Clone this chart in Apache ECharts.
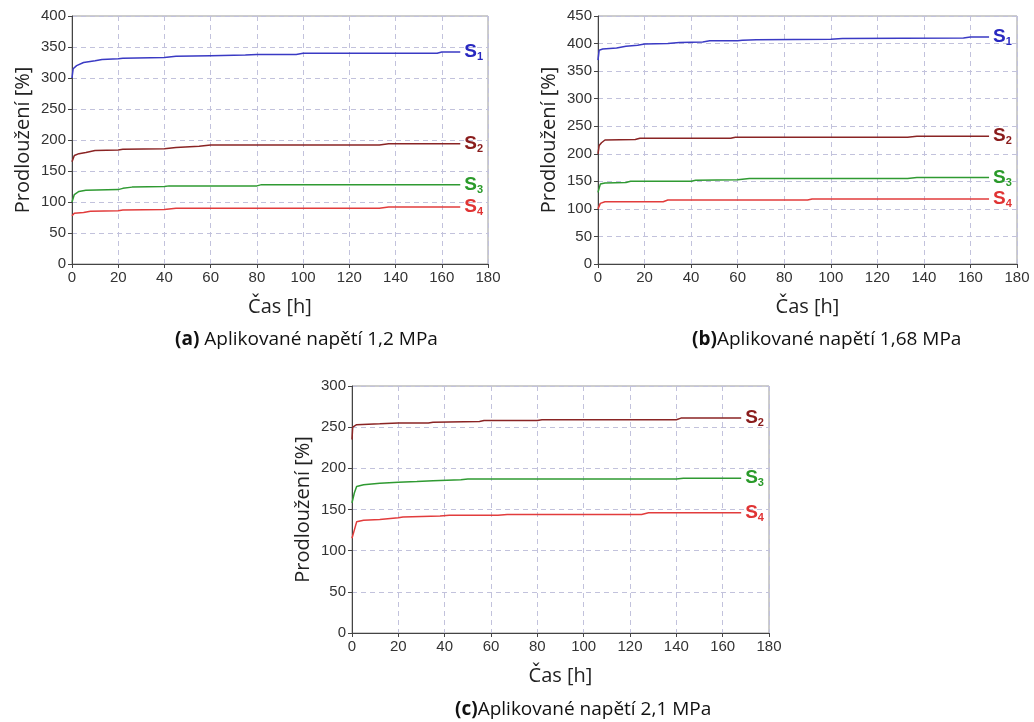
<!DOCTYPE html>
<html><head><meta charset="utf-8">
<script src="https://cdn.jsdelivr.net/npm/echarts@6/dist/echarts.min.js"></script>
<style>html,body{margin:0;padding:0;background:#fff}#c{width:1034px;height:722px}</style>
</head><body><div id="c"></div>
<script>
// ---- data (time [h], elongation [%]) ----
const xTicks = [0,20,40,60,80,100,120,140,160,180];
// panel (a) 1,2 MPa
const a_S1 = [[0,300],[0.5,315],[2,320],[5,325],[10,328],[13,330],[20,331],[22,332],[40,333],[45,335],[60,336],[75,337],[80,338],[97,338],[100,340],[158,340],[160,342],[168,342]];
const a_S2 = [[0,165],[1,175],[3,178],[6,180],[10,183],[20,184],[22,185],[40,186],[45,188],[55,190],[60,192],[133,192],[137,194],[168,194]];
const a_S3 = [[0,100],[1,112],[3,117],[6,119],[20,120],[22,122],[26,124],[40,125],[42,126],[80,126],[82,128],[168,128]];
const a_S4 = [[0,78],[1,82],[5,83],[8,85],[20,86],[22,87],[40,88],[45,90],[133,90],[137,92],[168,92]];
// panel (b) 1,68 MPa
const b_S1 = [[0,370],[0.5,388],[2,390],[8,392],[12,395],[17,397],[20,399],[30,400],[35,402],[45,403],[48,405],[60,405],[62,406],[68,407],[100,408],[105,409],[157,410],[160,412],[168,412]];
const b_S2 = [[0,200],[0.5,215],[1.5,220],[3,225],[16,226],[18,228],[57,228],[59,230],[133,230],[137,232],[168,232]];
const b_S3 = [[0,130],[1,145],[3,147],[12,148],[14,150],[40,150],[42,152],[60,153],[65,155],[133,155],[137,157],[168,157]];
const b_S4 = [[0,100],[1,110],[3,113],[28,113],[30,116],[90,116],[92,118],[168,118]];
// panel (c) 2,1 MPa
const c_S2 = [[0,235],[0.3,250],[2,253],[12,254],[20,255],[33,255],[35,256],[55,257],[57,258],[80,258],[82,259],[140,259],[142,261],[168,261]];
const c_S3 = [[0,158],[1,170],[2,178],[5,180],[12,182],[20,183],[28,184],[35,185],[47,186],[50,187],[140,187],[143,188],[168,188]];
const c_S4 = [[0,115],[1,125],[2,135],[5,137],[12,138],[20,140],[22,141],[38,142],[42,143],[63,143],[67,144],[125,144],[128,146],[168,146]];
const yMax = [400, 450, 300];
const captions = [['(a)',' Aplikované napětí 1,2 MPa'],['(b)','Aplikované napětí 1,68 MPa'],['(c)','Aplikované napětí 2,1 MPa']];

const seriesInfo = {
  S1:{line:'#3a3ac4', text:'#2828c0', sub:'1'},
  S2:{line:'#8a2424', text:'#8a1c1c', sub:'2'},
  S3:{line:'#2f9a32', text:'#2a9a2a', sub:'3'},
  S4:{line:'#e23c3c', text:'#e03434', sub:'4'}
};
const panels = [
  {S1:a_S1,S2:a_S2,S3:a_S3,S4:a_S4},
  {S1:b_S1,S2:b_S2,S3:b_S3,S4:b_S4},
  {S2:c_S2,S3:c_S3,S4:c_S4}
];
const grids = [
  {left:72, top:16, width:416, height:248},
  {left:598, top:16, width:419, height:248},
  {left:352, top:386, width:417, height:247}
];
const capPos = [{left:170, top:325},{left:687, top:325},{left:450, top:695}];

const tickFont = 'Liberation Sans';
const nameFont = 'Open Sans';
const option = {
  animation:false,
  backgroundColor:'#fff',
  grid: grids.map(g=>Object.assign({show:true, borderColor:'#9a9a9a', borderWidth:1, backgroundColor:'#fff', containLabel:false}, g)),
  title: captions.map((c,i)=>({
    left:capPos[i].left, top:capPos[i].top,
    text:'{b|'+c[0]+'}{n|'+c[1]+'}',
    textStyle:{fontWeight:'normal', rich:{
      b:{fontFamily:nameFont,fontSize:19,fontWeight:'bold',color:'#111'},
      n:{fontFamily:nameFont,fontSize:19,fontWeight:'normal',color:'#111'}
    }}
  })),
  xAxis: grids.map((g,i)=>({
    type:'value', gridIndex:i, min:0, max:180, interval:20,
    name:'Čas [h]', nameLocation:'middle', nameGap:33,
    nameTextStyle:{fontFamily:nameFont,fontSize:20,color:'#222'},
    axisLine:{show:true,onZero:false,lineStyle:{color:'#444',width:1}},
    axisTick:{show:true,length:4,lineStyle:{color:'#444'}},
    axisLabel:{fontFamily:tickFont,fontSize:15,color:'#333',margin:6},
    splitLine:{show:true,lineStyle:{color:'#c2c2dc',type:[5,4],width:1}}
  })),
  yAxis: grids.map((g,i)=>({
    type:'value', gridIndex:i, min:0, max:yMax[i], interval:50,
    name:'Prodloužení [%]', nameLocation:'middle', nameGap:39,
    nameTextStyle:{fontFamily:nameFont,fontSize:20,color:'#222'},
    axisLine:{show:true,lineStyle:{color:'#444',width:1}},
    axisTick:{show:true,length:4,lineStyle:{color:'#444'}},
    axisLabel:{fontFamily:tickFont,fontSize:15,color:'#333',margin:6},
    splitLine:{show:true,lineStyle:{color:'#c2c2dc',type:[5,4],width:1}}
  })),
  series: []
};
panels.forEach((p,i)=>{
  Object.keys(p).forEach(k=>{
    const info = seriesInfo[k];
    option.series.push({
      type:'line', xAxisIndex:i, yAxisIndex:i, data:p[k], showSymbol:false, symbol:'none',
      lineStyle:{color:info.line,width:1.5}, silent:true,
      endLabel:{show:true, distance:4, formatter:'{s|S}{u|'+info.sub+'}',
        rich:{
          s:{fontFamily:tickFont,fontWeight:'bold',fontSize:19,color:info.text,verticalAlign:'middle'},
          u:{fontFamily:tickFont,fontWeight:'bold',fontSize:11,color:info.text,padding:[10,0,0,0]}
        }}
    });
  });
});
const chart = echarts.init(document.getElementById('c'),null,{renderer:'canvas'});
chart.setOption(option);
</script></body></html>
